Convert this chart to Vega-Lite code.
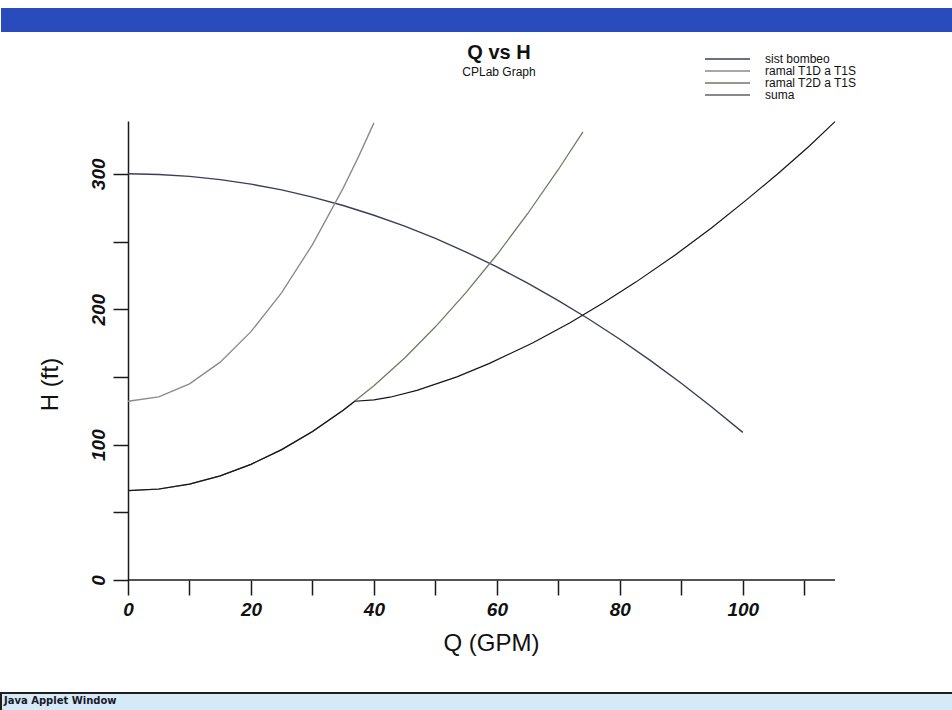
{
  "$schema": "https://vega.github.io/schema/vega-lite/v6.json",
  "padding": {"top": 8, "left": 0, "right": 0, "bottom": 0},
  "background": "white",
  "spacing": 11,
  "bounds": "full",
  "config": {"view": {"stroke": null}},
  "vconcat": [
    {
      "width": 952,
      "height": 24,
      "view": {"fill": "#2a4bbb", "stroke": null},
      "data": {"values": [{"k": "bar"}]},
      "mark": {"type": "rect", "color": "#2a4bbb"},
      "encoding": {}
    },
    {
      "width": 834,
      "height": 459,
      "title": {
        "text": "Q vs H",
        "subtitle": "CPLab Graph",
        "frame": "group",
        "anchor": "middle",
        "dx": 81,
        "offset": 41,
        "font": "Liberation Sans",
        "fontSize": 20,
        "fontWeight": "bold",
        "color": "#111",
        "subtitleFont": "Liberation Sans",
        "subtitleFontSize": 12,
        "subtitleColor": "#111",
        "subtitlePadding": 4
      },
      "layer": [
        {
          "data": {"values": [{"Q": 0, "Q2": 115, "H": 0}]},
          "mark": {"type": "rule", "color": "#1a1a1a", "strokeWidth": 1.5},
          "encoding": {
            "x": {"field": "Q", "type": "quantitative"},
            "x2": {"field": "Q2"},
            "y": {"field": "H", "type": "quantitative"}
          }
        },
        {
          "data": {
            "values": [
              {"serie": "sist bombeo", "Q": 0, "H": 300},
              {"serie": "sist bombeo", "Q": 5, "H": 299.5},
              {"serie": "sist bombeo", "Q": 10, "H": 298.1},
              {"serie": "sist bombeo", "Q": 15, "H": 295.7},
              {"serie": "sist bombeo", "Q": 20, "H": 292.4},
              {"serie": "sist bombeo", "Q": 25, "H": 288.1},
              {"serie": "sist bombeo", "Q": 30, "H": 282.8},
              {"serie": "sist bombeo", "Q": 35, "H": 276.6},
              {"serie": "sist bombeo", "Q": 40, "H": 269.4},
              {"serie": "sist bombeo", "Q": 45, "H": 261.3},
              {"serie": "sist bombeo", "Q": 50, "H": 252.3},
              {"serie": "sist bombeo", "Q": 55, "H": 242.2},
              {"serie": "sist bombeo", "Q": 60, "H": 231.2},
              {"serie": "sist bombeo", "Q": 65, "H": 219.3},
              {"serie": "sist bombeo", "Q": 70, "H": 206.4},
              {"serie": "sist bombeo", "Q": 75, "H": 192.6},
              {"serie": "sist bombeo", "Q": 80, "H": 177.8},
              {"serie": "sist bombeo", "Q": 85, "H": 162.0},
              {"serie": "sist bombeo", "Q": 90, "H": 145.3},
              {"serie": "sist bombeo", "Q": 95, "H": 127.6},
              {"serie": "sist bombeo", "Q": 100, "H": 109.0},
              {"serie": "ramal T1D a T1S", "Q": 0, "H": 132},
              {"serie": "ramal T1D a T1S", "Q": 5, "H": 135.2},
              {"serie": "ramal T1D a T1S", "Q": 10, "H": 144.9},
              {"serie": "ramal T1D a T1S", "Q": 15, "H": 160.9},
              {"serie": "ramal T1D a T1S", "Q": 20, "H": 183.4},
              {"serie": "ramal T1D a T1S", "Q": 25, "H": 212.3},
              {"serie": "ramal T1D a T1S", "Q": 30, "H": 247.7},
              {"serie": "ramal T1D a T1S", "Q": 35, "H": 289.4},
              {"serie": "ramal T1D a T1S", "Q": 37.5, "H": 312.7},
              {"serie": "ramal T1D a T1S", "Q": 40, "H": 337.6},
              {"serie": "ramal T2D a T1S", "Q": 0, "H": 66},
              {"serie": "ramal T2D a T1S", "Q": 5, "H": 67.2},
              {"serie": "ramal T2D a T1S", "Q": 10, "H": 70.8},
              {"serie": "ramal T2D a T1S", "Q": 15, "H": 76.9},
              {"serie": "ramal T2D a T1S", "Q": 20, "H": 85.4},
              {"serie": "ramal T2D a T1S", "Q": 25, "H": 96.3},
              {"serie": "ramal T2D a T1S", "Q": 30, "H": 109.6},
              {"serie": "ramal T2D a T1S", "Q": 35, "H": 125.3},
              {"serie": "ramal T2D a T1S", "Q": 40, "H": 143.4},
              {"serie": "ramal T2D a T1S", "Q": 45, "H": 164.0},
              {"serie": "ramal T2D a T1S", "Q": 50, "H": 187.0},
              {"serie": "ramal T2D a T1S", "Q": 55, "H": 212.4},
              {"serie": "ramal T2D a T1S", "Q": 60, "H": 240.2},
              {"serie": "ramal T2D a T1S", "Q": 65, "H": 270.5},
              {"serie": "ramal T2D a T1S", "Q": 70, "H": 303.2},
              {"serie": "ramal T2D a T1S", "Q": 74, "H": 331.0},
              {"serie": "suma", "Q": 0, "H": 66},
              {"serie": "suma", "Q": 5, "H": 67.2},
              {"serie": "suma", "Q": 10, "H": 70.8},
              {"serie": "suma", "Q": 15, "H": 76.9},
              {"serie": "suma", "Q": 20, "H": 85.4},
              {"serie": "suma", "Q": 25, "H": 96.3},
              {"serie": "suma", "Q": 30, "H": 109.6},
              {"serie": "suma", "Q": 35, "H": 125.3},
              {"serie": "suma", "Q": 36.9, "H": 132.0},
              {"serie": "suma", "Q": 40.0, "H": 133},
              {"serie": "suma", "Q": 42.6, "H": 135},
              {"serie": "suma", "Q": 47.0, "H": 140},
              {"serie": "suma", "Q": 53.5, "H": 150},
              {"serie": "suma", "Q": 58.8, "H": 160},
              {"serie": "suma", "Q": 65.8, "H": 175},
              {"serie": "suma", "Q": 71.9, "H": 190},
              {"serie": "suma", "Q": 77.4, "H": 205},
              {"serie": "suma", "Q": 82.6, "H": 220},
              {"serie": "suma", "Q": 89.0, "H": 240},
              {"serie": "suma", "Q": 94.9, "H": 260},
              {"serie": "suma", "Q": 100.4, "H": 280},
              {"serie": "suma", "Q": 105.7, "H": 300},
              {"serie": "suma", "Q": 110.7, "H": 320},
              {"serie": "suma", "Q": 115.0, "H": 338.5}
            ]
          },
          "mark": {"type": "line", "interpolate": "linear"},
          "encoding": {
            "x": {"field": "Q", "type": "quantitative"},
            "y": {"field": "H", "type": "quantitative"},
            "color": {
              "field": "serie",
              "type": "nominal",
              "scale": {
                "domain": ["sist bombeo", "ramal T1D a T1S", "ramal T2D a T1S", "suma"],
                "range": ["#3b3e58", "#8a8a8a", "#6e7a62", "#151515"]
              },
              "legend": {
                "title": null,
                "orient": "none",
                "legendX": 703,
                "legendY": 45,
                "symbolType": "stroke",
                "symbolSize": 2025,
                "symbolStrokeWidth": 1.8,
                "clipHeight": 12,
                "rowPadding": 0,
                "labelOffset": 14,
                "labelFont": "Liberation Sans",
                "labelFontSize": 12,
                "labelColor": "#111"
              }
            },
            "strokeWidth": {
              "field": "serie",
              "type": "nominal",
              "scale": {
                "domain": ["sist bombeo", "ramal T1D a T1S", "ramal T2D a T1S", "suma"],
                "range": [1.4, 1.2, 1.2, 2.2]
              },
              "legend": null
            }
          }
        }
      ],
      "encoding": {
        "x": {
          "field": "Q",
          "type": "quantitative",
          "scale": {"domain": [-20.66, 115], "nice": false, "zero": false},
          "axis": {
            "title": ["Q (GPM)", " "],
            "titleFont": "Liberation Sans",
            "titleFontSize": 24,
            "titleFontWeight": "normal",
            "titleColor": "#111",
            "titleLineHeight": 26,
            "titlePadding": 12,
            "titleX": 490,
            "values": [0, 10, 20, 30, 40, 50, 60, 70, 80, 90, 100, 110],
            "labelExpr": "datum.value % 20 == 0 ? datum.label : ''",
            "labelFont": "Liberation Sans",
            "labelFontSize": 19,
            "labelFontWeight": "bold",
            "labelFontStyle": "italic",
            "labelColor": "#111",
            "labelPadding": 5,
            "labelOverlap": false,
            "labelFlush": false,
            "tickSize": 15,
            "tickWidth": 1.5,
            "tickColor": "#1a1a1a",
            "domain": false,
            "grid": false
          }
        },
        "y": {
          "field": "H",
          "type": "quantitative",
          "scale": {"domain": [0, 339], "nice": false},
          "axis": {
            "title": "H (ft)",
            "offset": -127,
            "titleFont": "Liberation Sans",
            "titleFontSize": 24,
            "titleFontWeight": "normal",
            "titleColor": "#111",
            "titlePadding": 27,
            "titleY": 263,
            "values": [0, 50, 100, 150, 200, 250, 300],
            "labelExpr": "datum.value % 100 == 0 ? datum.label : ''",
            "labelAngle": -90,
            "labelAlign": "center",
            "labelBaseline": "bottom",
            "labelFont": "Liberation Sans",
            "labelFontSize": 19,
            "labelFontWeight": "bold",
            "labelFontStyle": "italic",
            "labelColor": "#111",
            "labelPadding": 5,
            "labelOverlap": false,
            "labelFlush": false,
            "tickSize": 15,
            "tickWidth": 1.5,
            "tickColor": "#1a1a1a",
            "domainWidth": 1.5,
            "domainColor": "#1a1a1a",
            "grid": false
          }
        }
      }
    },
    {
      "width": 952,
      "height": 20,
      "view": {"fill": "#d6e9f6", "stroke": "#1e1e1e", "strokeWidth": 2},
      "data": {"values": [{"label": "Java Applet Window", "pos": 0, "mid": 0.5}]},
      "mark": {"type": "text", "align": "left", "baseline": "middle", "dx": 3, "dy": -2, "font": "DejaVu Sans", "fontSize": 10, "fontWeight": "bold", "color": "#1a1a2a"},
      "encoding": {
        "x": {"field": "pos", "type": "quantitative", "scale": {"domain": [0, 1]}, "axis": null},
        "y": {"field": "mid", "type": "quantitative", "scale": {"domain": [0, 1]}, "axis": null},
        "text": {"field": "label"}
      }
    }
  ]
}
